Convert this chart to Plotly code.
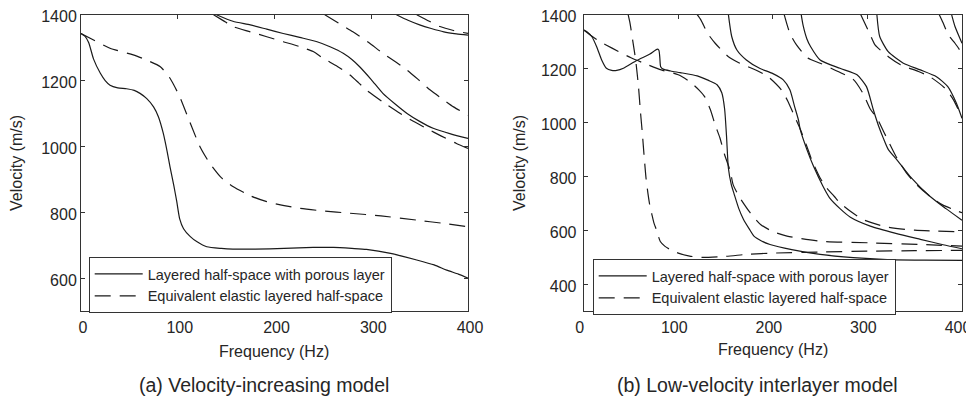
import plotly.graph_objects as go

# (a) velocity-increasing model
a_s1_f = [0, 4, 8, 13, 20, 25, 30, 38, 47, 55, 61, 68, 75, 80, 85, 89, 92, 96, 99, 102, 106, 113, 120, 130, 145, 157, 180, 210, 240, 261, 280, 295, 320, 347, 365, 378, 390, 400]
a_s1_v = [1343, 1335, 1315, 1265, 1222, 1200, 1186, 1178, 1175, 1170, 1161, 1145, 1120, 1090, 1040, 985, 938, 880, 832, 780, 750, 726, 710, 695, 690, 688, 688, 690, 693, 693, 690, 687, 675, 655, 640, 624, 612, 600]
a_d1_f = [0, 13, 30, 54, 68, 82, 92, 102, 113, 123, 133, 145, 157, 175, 192, 210, 226, 250, 278, 310, 347, 375, 400]
a_d1_v = [1343, 1323, 1298, 1278, 1262, 1242, 1207, 1151, 1070, 999, 949, 905, 878, 850, 832, 820, 812, 804, 797, 789, 776, 766, 756]
a_s2_f = [140, 157, 175, 192, 209, 226, 244, 258, 271, 280, 288, 300, 312, 325, 337, 350, 364, 382, 400]
a_s2_v = [1400, 1380, 1369, 1356, 1343, 1331, 1318, 1302, 1283, 1264, 1242, 1203, 1161, 1128, 1100, 1076, 1055, 1038, 1024]
a_d2_f = [137, 147, 157, 175, 192, 209, 226, 240, 250, 265, 278, 287, 295, 312, 330, 343, 357, 372, 388, 400]
a_d2_v = [1400, 1382, 1364, 1348, 1333, 1318, 1303, 1288, 1268, 1243, 1217, 1193, 1171, 1135, 1100, 1077, 1055, 1032, 1009, 994]
a_d3_f = [252, 266, 281, 297, 312, 325, 337, 349, 361, 373, 385, 400]
a_d3_v = [1400, 1375, 1348, 1316, 1283, 1257, 1232, 1202, 1171, 1145, 1120, 1095]
a_s3_f = [326, 338, 350, 362, 375, 388, 400]
a_s3_v = [1400, 1383, 1369, 1358, 1348, 1342, 1338]
a_d4_f = [347, 360, 371, 385, 400]
a_d4_v = [1400, 1380, 1364, 1352, 1343]

# (b) low-velocity interlayer model
b_s1_f = [0, 4, 8.5, 13.7, 19, 24, 29.6, 35, 42, 56, 70, 77.8, 79.5, 80.5, 81.4, 84, 92, 102, 120, 132, 141, 146, 149, 151, 153, 156, 159, 164, 169, 175, 180, 188, 197, 220, 250, 285, 321, 360, 400]
b_s1_v = [1343, 1335, 1319, 1281, 1232, 1201, 1193, 1193, 1201, 1230, 1254, 1272, 1268, 1240, 1207, 1198, 1191, 1185, 1173, 1156, 1140, 1110, 1050, 950, 830, 770, 735, 680, 640, 605, 578, 560, 547, 528, 510, 498, 491, 489, 488]
b_d0_f = [47, 49, 52, 55, 58, 60, 62, 64, 66, 68, 70, 72, 74, 77, 81, 86, 91, 100, 112, 125, 150, 175, 200, 250, 300, 350, 400]
b_d0_v = [1400, 1368, 1300, 1230, 1130, 1040, 960, 870, 790, 735, 690, 660, 630, 600, 558, 540, 529, 515, 504, 499, 503, 511, 515, 519, 522, 524, 525]
b_d1_f = [0, 8, 17, 30, 50, 68, 82, 100, 112, 122, 128, 134, 139, 144, 149, 155, 158, 165, 176, 187, 200, 215, 250, 303, 356, 400]
b_d1_v = [1343, 1322, 1300, 1276, 1240, 1214, 1195, 1177, 1152, 1120, 1095, 1047, 991, 943, 880, 819, 769, 721, 665, 621, 595, 578, 559, 553, 547, 541]
b_s2_f = [153, 156.5, 162, 172, 186, 199, 211, 218, 223, 227, 229, 236, 243, 253, 260, 271, 282, 303, 330, 356, 380, 400]
b_s2_v = [1400, 1319, 1269, 1232, 1201, 1183, 1158, 1121, 1059, 1010, 973, 899, 837, 763, 720, 680, 648, 615, 588, 566, 546, 531]
b_d2_f = [120, 124, 131, 139, 153, 165, 183, 195, 209, 216, 222, 229, 236, 241, 250, 257, 265, 271, 282, 295, 320, 350, 400]
b_d2_v = [1400, 1380, 1331, 1294, 1244, 1220, 1193, 1170, 1121, 1078, 1030, 975, 911, 862, 794, 757, 725, 701, 670, 640, 612, 600, 594]
b_s3_f = [230, 232, 236, 240, 250, 271, 289, 299, 306, 312, 317, 322, 331, 345, 366, 383, 400]
b_s3_v = [1400, 1360, 1310, 1281, 1232, 1201, 1177, 1133, 1050, 985, 940, 900, 862, 800, 726, 680, 637]
b_d3_f = [212, 218, 225, 237, 250, 269, 285, 295, 303, 310, 318, 331, 341, 352, 366, 379, 396, 400]
b_d3_v = [1400, 1331, 1288, 1239, 1220, 1189, 1160, 1110, 1050, 1017, 960, 869, 814, 769, 726, 695, 670, 665]
b_s4_f = [310, 313, 322, 338, 356, 373, 385, 394, 400]
b_s4_v = [1400, 1319, 1263, 1220, 1195, 1170, 1133, 1072, 1015]
b_d4_f = [293, 303, 308, 324, 335, 354, 366, 382, 391, 400]
b_d4_v = [1400, 1325, 1288, 1239, 1214, 1189, 1170, 1127, 1084, 1018]
b_s5_f = [389, 392.6, 400]
b_s5_v = [1400, 1356, 1294]
b_d5_f = [376, 380, 385.5, 392.6, 400]
b_d5_v = [1400, 1370, 1325, 1294, 1257]

names = ['Layered half-space with porous layer', 'Equivalent elastic layered half-space']

ink = '#1a1a1a'
FONT = 'Liberation Sans, Arial, sans-serif'
DASH = '16px,9px'
# the page body has an 8px margin all round, so keep the figure 16px smaller than the window
W, H = 966, 390

fig = go.Figure()


def add(f, v, dashed, xa, ya, leg, show):
    fig.add_trace(go.Scatter(
        x=f, y=v, mode='lines', xaxis=xa, yaxis=ya,
        line=dict(color=ink, width=1.2, dash=DASH if dashed else 'solid', shape='spline', smoothing=0.6),
        name=names[1] if dashed else names[0], legend=leg, showlegend=show,
        hoverinfo='skip'))


add(a_s1_f, a_s1_v, False, 'x', 'y', 'legend', True)
add(a_d1_f, a_d1_v, True, 'x', 'y', 'legend', True)
for f, v, d in [(a_s2_f, a_s2_v, False), (a_d2_f, a_d2_v, True), (a_d3_f, a_d3_v, True),
                (a_s3_f, a_s3_v, False), (a_d4_f, a_d4_v, True)]:
    add(f, v, d, 'x', 'y', 'legend', False)

add(b_s1_f, b_s1_v, False, 'x2', 'y2', 'legend2', True)
add(b_d1_f, b_d1_v, True, 'x2', 'y2', 'legend2', True)
for f, v, d in [(b_d0_f, b_d0_v, True), (b_s2_f, b_s2_v, False), (b_d2_f, b_d2_v, True),
                (b_s3_f, b_s3_v, False), (b_d3_f, b_d3_v, True), (b_s4_f, b_s4_v, False),
                (b_d4_f, b_d4_v, True), (b_s5_f, b_s5_v, False), (b_d5_f, b_d5_v, True)]:
    add(f, v, d, 'x2', 'y2', 'legend2', False)

ax = dict(showline=True, linecolor='#333333', linewidth=1, mirror='ticks', ticks='inside',
          ticklen=4, tickcolor='#333333', showgrid=False, zeroline=False, automargin=False,
          ticklabeloverflow='allow', tickfont=dict(family=FONT, size=16, color='#262626'))

ydom = [1 - 303 / H, 1 - 6.7 / H]
legfont = dict(family=FONT, size=14.5, color='#262626')

fig.update_layout(
    width=W, height=H, margin=dict(l=0, r=0, t=0, b=0),
    paper_bgcolor='white', plot_bgcolor='white',
    xaxis=dict(ax, domain=[73 / W, 460 / W], range=[0, 400], tickvals=[0, 100, 200, 300, 400],
               anchor='y', ticklabelstandoff=2, ticklabelshift=2),
    yaxis=dict(ax, domain=ydom, range=[500, 1400], tickvals=[600, 800, 1000, 1200, 1400],
               anchor='x', ticklabelshift=2),
    xaxis2=dict(ax, domain=[575.7 / W, 954 / W], range=[0, 400], tickvals=[0, 100, 200, 300, 400],
                anchor='y2', ticklabelstandoff=2, ticklabelshift=-4),
    yaxis2=dict(ax, domain=ydom, range=[300, 1400], tickvals=[400, 600, 800, 1000, 1200, 1400],
                anchor='x2', ticklabelstandoff=3, ticklabelshift=2),
    legend=dict(x=80.7 / W, y=1 - 249 / H, xanchor='left', yanchor='top', bgcolor='white',
                bordercolor='#333333', borderwidth=1, itemwidth=48, tracegroupgap=0, font=legfont),
    legend2=dict(x=584.7 / W, y=1 - 251 / H, xanchor='left', yanchor='top', bgcolor='white',
                 bordercolor='#333333', borderwidth=1, itemwidth=48, tracegroupgap=0, font=legfont),
    showlegend=True,
)

txt = dict(family=FONT, size=16, color='#262626')
big = dict(family=FONT, size=19.5, color='#262626')


def note(text, x, y, font, angle=0):
    fig.add_annotation(text=text, x=x / W, y=1 - y / H, xref='paper', yref='paper', showarrow=False,
                       font=font, textangle=angle, xanchor='center', yanchor='middle')


note('Frequency (Hz)', 266, 343, txt)
note('Frequency (Hz)', 765, 341, txt)
note('Velocity (m/s)', 9, 155, txt, -90)
note('Velocity (m/s)', 512, 155, txt, -90)
note('(a) Velocity-increasing model', 256, 377, big)
note('(b) Low-velocity interlayer model', 749, 377, big)

fig.write_html('out.html')
